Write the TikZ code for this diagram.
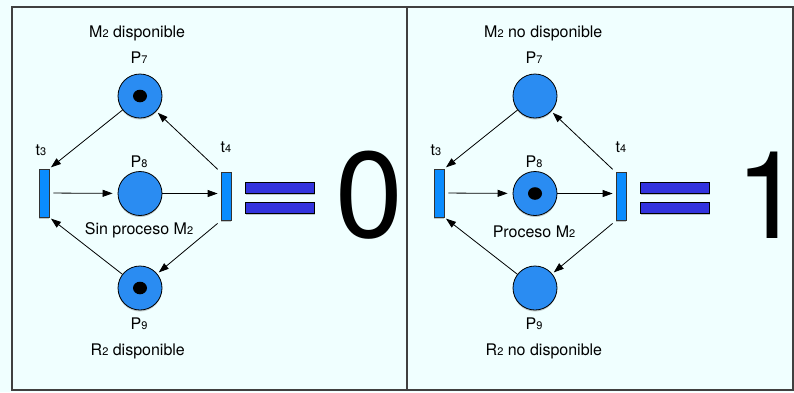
\documentclass[tikz,border=0pt]{standalone}
\usepackage{fontspec}
\setmainfont{TeX Gyre Heros}
\usetikzlibrary{arrows.meta,shadows}
\definecolor{paper}{RGB}{240,255,255}
\definecolor{placeblue}{RGB}{42,140,242}
\definecolor{transblue}{RGB}{10,140,255}
\definecolor{barblue}{RGB}{51,51,221}
\definecolor{framegray}{RGB}{64,64,64}
\newcommand\sub[1]{{\fontsize{11}{11}\selectfont #1}}
\tikzset{
  soft/.style={drop shadow={shadow xshift=0pt, shadow yshift=-1.5pt,
      opacity=0.3, fill=black!70}},
  place/.style={circle, draw=black, line width=0.8pt, fill=placeblue,
      minimum size=44pt, inner sep=0pt, soft},
  tok0/.style={},
  tok1/.style={path picture={\fill[black] (path picture bounding box.center)
      ellipse (7pt and 6.3pt);}},
  trans/.style={rectangle, draw=black!80, line width=0.8pt, fill=transblue,
      minimum width=10pt, minimum height=48pt, inner sep=0pt, soft},
  bar/.style={rectangle, draw=black, line width=0.6pt, fill=barblue,
      minimum width=69pt, minimum height=11pt, inner sep=0pt, soft},
  lbl/.style={inner sep=0pt, font=\fontsize{16}{16}\selectfont},
  flow/.style={-{Triangle[length=10pt,width=7pt]}, line width=0.8pt,
      shorten >=2pt}
}
\begin{document}
\begin{tikzpicture}[x=1pt, y=-1pt]
  \useasboundingbox (0,0) rectangle (794,392);
  \fill[paper] (0,0) rectangle (794,392);
  \draw[framegray, line width=1.2pt] (12,7) rectangle (793,390);
  \draw[framegray, line width=1.2pt] (407,7) -- (407,390);
  \foreach \ox/\vx/\val/\ka/\kb/\kc/\py/\mtxt/\ptxt/\rtxt in {
      0/369/0/1/0/1/234/{M\sub{2} disponible}/{Sin proceso M\sub{2}}/{R\sub{2} disponible},
      395/769/1/0/1/0/237/{M\sub{2} no disponible}/{Proceso M\sub{2}}/{R\sub{2} no disponible}}
  {
    % net
    \node[place, tok\ka] (p7) at (\ox+140, 96) {};
    \node[place, tok\kb] (p8) at (\ox+140, 193.5) {};
    \node[place, tok\kc] (p9) at (\ox+140, 288) {};
    \node[trans] (t3) at (\ox+44, 193) {};
    \node[trans] (t4) at (\ox+226, 196.5) {};
    \draw[flow] (p7) -- (t3.north east);
    \draw[flow, shorten <=4pt] (t4.north west) -- (p7);
    \draw[flow, shorten <=4pt, shorten >=5pt] (t3) -- (p8);
    \draw[flow, shorten >=3pt] (p8) -- (p8 -| t4.west);
    \draw[flow, shorten <=4pt] (t4.south west) -- (p9);
    \draw[flow] (p9) -- (t3.south east);
    % labels
    \node[lbl, anchor=base] (lt3) at (\ox+41, 155.5) {t\sub{3}};
    \node[lbl, anchor=base] (lt4) at (\ox+226, 152.5) {t\sub{4}};
    \node[lbl] (lp7) at (\ox+139, 58) {P\sub{7}};
    \node[lbl] (lp8) at (\ox+139, 162) {P\sub{8}};
    \node[lbl] (lp9) at (\ox+139, 324) {P\sub{9}};
    \node[lbl, anchor=base west] (mlbl) at (\ox+89, 37) {\mtxt};
    \node[lbl, anchor=base] (plbl) at (\ox+139, \py) {\ptxt};
    \node[lbl, anchor=base west] (rlbl) at (\ox+90.5, 355.5) {\rtxt};
    % equals sign and value
    \node[bar] (eqtop) at (\ox+280, 188) {};
    \node[bar] (eqbot) at (\ox+280, 207.5) {};
    \node[inner sep=0pt, font=\fontsize{122}{122}\selectfont] (val) at (\vx, 195) {\makebox[40pt]{\val}};
  }
\end{tikzpicture}
\end{document}
